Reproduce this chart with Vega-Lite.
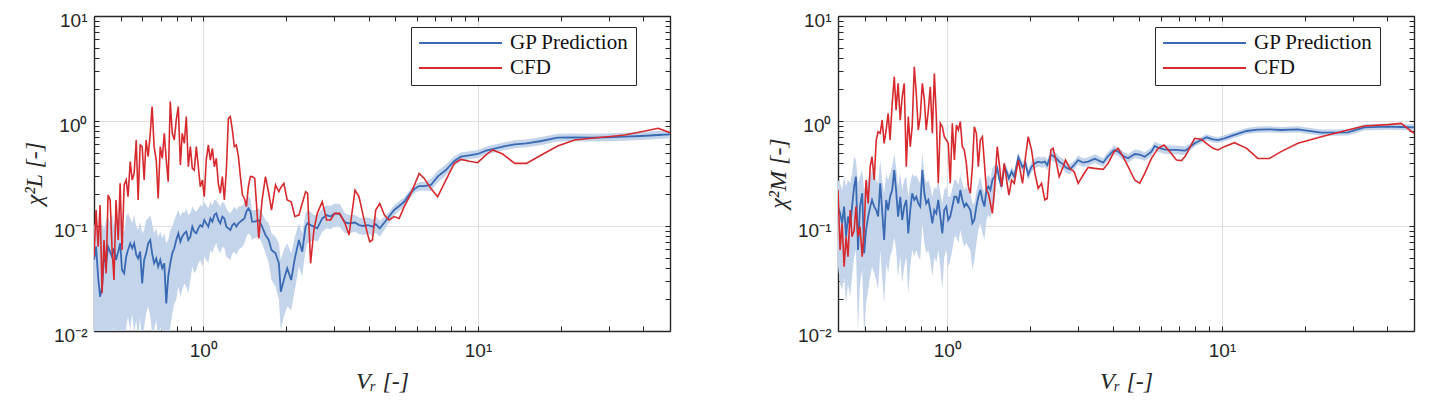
{
  "$schema": "https://vega.github.io/schema/vega-lite/v6.json",
  "description": "Chi-square of lift and moment coefficients vs reduced velocity: GP prediction with band against CFD.",
  "background": "white",
  "padding": {"left": 22, "top": 11, "right": 5, "bottom": 5},
  "spacing": 95,
  "datasets": {
    "left": [
      {"Vr": 0.400, "cfd": 0.0511, "gp": 0.0475, "lo": 0.0082, "hi": 0.0986},
      {"Vr": 0.407, "cfd": 0.142, "gp": 0.0636, "lo": 0.0102, "hi": 0.114},
      {"Vr": 0.414, "cfd": 0.0636, "gp": 0.0329, "lo": 0.0066, "hi": 0.0851},
      {"Vr": 0.421, "cfd": 0.158, "gp": 0.0212, "lo": 0.0053, "hi": 0.0916},
      {"Vr": 0.428, "cfd": 0.0229, "gp": 0.0264, "lo": 0.0082, "hi": 0.106},
      {"Vr": 0.435, "cfd": 0.0736, "gp": 0.0511, "lo": 0.0095, "hi": 0.0916},
      {"Vr": 0.443, "cfd": 0.0354, "gp": 0.0441, "lo": 0.0066, "hi": 0.114},
      {"Vr": 0.450, "cfd": 0.197, "gp": 0.0636, "lo": 0.0102, "hi": 0.123},
      {"Vr": 0.458, "cfd": 0.177, "gp": 0.0570, "lo": 0.0095, "hi": 0.106},
      {"Vr": 0.465, "cfd": 0.0636, "gp": 0.0511, "lo": 0.0082, "hi": 0.132},
      {"Vr": 0.473, "cfd": 0.0306, "gp": 0.0613, "lo": 0.0110, "hi": 0.0986},
      {"Vr": 0.481, "cfd": 0.177, "gp": 0.0475, "lo": 0.0066, "hi": 0.127},
      {"Vr": 0.490, "cfd": 0.0736, "gp": 0.0570, "lo": 0.0095, "hi": 0.114},
      {"Vr": 0.498, "cfd": 0.255, "gp": 0.0684, "lo": 0.0102, "hi": 0.132},
      {"Vr": 0.506, "cfd": 0.0591, "gp": 0.0381, "lo": 0.0066, "hi": 0.0986},
      {"Vr": 0.515, "cfd": 0.246, "gp": 0.0354, "lo": 0.0082, "hi": 0.0851},
      {"Vr": 0.524, "cfd": 0.274, "gp": 0.0511, "lo": 0.0110, "hi": 0.123},
      {"Vr": 0.532, "cfd": 0.190, "gp": 0.0591, "lo": 0.0137, "hi": 0.132},
      {"Vr": 0.542, "cfd": 0.410, "gp": 0.0684, "lo": 0.0102, "hi": 0.118},
      {"Vr": 0.551, "cfd": 0.274, "gp": 0.0613, "lo": 0.0147, "hi": 0.106},
      {"Vr": 0.560, "cfd": 0.317, "gp": 0.0684, "lo": 0.0095, "hi": 0.127},
      {"Vr": 0.570, "cfd": 0.659, "gp": 0.0530, "lo": 0.0127, "hi": 0.0986},
      {"Vr": 0.579, "cfd": 0.177, "gp": 0.0492, "lo": 0.0082, "hi": 0.0916},
      {"Vr": 0.589, "cfd": 0.591, "gp": 0.0570, "lo": 0.0137, "hi": 0.110},
      {"Vr": 0.599, "cfd": 0.570, "gp": 0.0284, "lo": 0.0066, "hi": 0.0851},
      {"Vr": 0.609, "cfd": 0.274, "gp": 0.0475, "lo": 0.0110, "hi": 0.0916},
      {"Vr": 0.619, "cfd": 0.659, "gp": 0.0549, "lo": 0.0147, "hi": 0.114},
      {"Vr": 0.630, "cfd": 0.457, "gp": 0.0684, "lo": 0.0171, "hi": 0.118},
      {"Vr": 0.641, "cfd": 0.763, "gp": 0.0736, "lo": 0.0137, "hi": 0.127},
      {"Vr": 0.651, "cfd": 1.37, "gp": 0.0549, "lo": 0.0095, "hi": 0.106},
      {"Vr": 0.662, "cfd": 0.570, "gp": 0.0441, "lo": 0.0102, "hi": 0.0851},
      {"Vr": 0.674, "cfd": 0.425, "gp": 0.0492, "lo": 0.0127, "hi": 0.0950},
      {"Vr": 0.685, "cfd": 0.183, "gp": 0.0410, "lo": 0.0082, "hi": 0.0791},
      {"Vr": 0.697, "cfd": 0.570, "gp": 0.0475, "lo": 0.0110, "hi": 0.0883},
      {"Vr": 0.709, "cfd": 0.441, "gp": 0.0395, "lo": 0.0095, "hi": 0.0763},
      {"Vr": 0.721, "cfd": 0.763, "gp": 0.0441, "lo": 0.0102, "hi": 0.0851},
      {"Vr": 0.733, "cfd": 0.425, "gp": 0.0183, "lo": 0.0053, "hi": 0.0684},
      {"Vr": 0.745, "cfd": 0.264, "gp": 0.0329, "lo": 0.0082, "hi": 0.0736},
      {"Vr": 0.758, "cfd": 1.53, "gp": 0.0441, "lo": 0.0110, "hi": 0.0916},
      {"Vr": 0.771, "cfd": 0.763, "gp": 0.0549, "lo": 0.0147, "hi": 0.0986},
      {"Vr": 0.784, "cfd": 0.659, "gp": 0.0613, "lo": 0.0183, "hi": 0.114},
      {"Vr": 0.797, "cfd": 1.02, "gp": 0.0736, "lo": 0.0197, "hi": 0.127},
      {"Vr": 0.811, "cfd": 1.37, "gp": 0.0851, "lo": 0.0264, "hi": 0.142},
      {"Vr": 0.825, "cfd": 0.381, "gp": 0.0709, "lo": 0.0212, "hi": 0.123},
      {"Vr": 0.838, "cfd": 0.763, "gp": 0.0791, "lo": 0.0246, "hi": 0.137},
      {"Vr": 0.853, "cfd": 0.613, "gp": 0.0851, "lo": 0.0284, "hi": 0.132},
      {"Vr": 0.867, "cfd": 1.10, "gp": 0.0883, "lo": 0.0264, "hi": 0.147},
      {"Vr": 0.882, "cfd": 0.367, "gp": 0.0736, "lo": 0.0229, "hi": 0.127},
      {"Vr": 0.897, "cfd": 0.570, "gp": 0.0791, "lo": 0.0306, "hi": 0.132},
      {"Vr": 0.912, "cfd": 0.354, "gp": 0.0986, "lo": 0.0410, "hi": 0.153},
      {"Vr": 0.927, "cfd": 0.341, "gp": 0.0883, "lo": 0.0354, "hi": 0.142},
      {"Vr": 0.943, "cfd": 0.570, "gp": 0.0851, "lo": 0.0381, "hi": 0.137},
      {"Vr": 0.959, "cfd": 0.367, "gp": 0.0950, "lo": 0.0441, "hi": 0.147},
      {"Vr": 0.975, "cfd": 0.237, "gp": 0.102, "lo": 0.0475, "hi": 0.158},
      {"Vr": 0.992, "cfd": 0.274, "gp": 0.0986, "lo": 0.0410, "hi": 0.153},
      {"Vr": 1.008, "cfd": 0.190, "gp": 0.114, "lo": 0.0511, "hi": 0.170},
      {"Vr": 1.025, "cfd": 0.425, "gp": 0.106, "lo": 0.0475, "hi": 0.158},
      {"Vr": 1.043, "cfd": 0.591, "gp": 0.0986, "lo": 0.0441, "hi": 0.147},
      {"Vr": 1.061, "cfd": 0.425, "gp": 0.118, "lo": 0.0591, "hi": 0.170},
      {"Vr": 1.079, "cfd": 0.549, "gp": 0.110, "lo": 0.0549, "hi": 0.158},
      {"Vr": 1.097, "cfd": 0.367, "gp": 0.127, "lo": 0.0636, "hi": 0.177},
      {"Vr": 1.115, "cfd": 0.441, "gp": 0.132, "lo": 0.0684, "hi": 0.177},
      {"Vr": 1.134, "cfd": 0.255, "gp": 0.114, "lo": 0.0591, "hi": 0.164},
      {"Vr": 1.153, "cfd": 0.205, "gp": 0.106, "lo": 0.0549, "hi": 0.153},
      {"Vr": 1.173, "cfd": 0.295, "gp": 0.123, "lo": 0.0636, "hi": 0.170},
      {"Vr": 1.193, "cfd": 0.177, "gp": 0.118, "lo": 0.0613, "hi": 0.164},
      {"Vr": 1.213, "cfd": 0.341, "gp": 0.0986, "lo": 0.0511, "hi": 0.147},
      {"Vr": 1.234, "cfd": 1.06, "gp": 0.0950, "lo": 0.0492, "hi": 0.137},
      {"Vr": 1.254, "cfd": 1.10, "gp": 0.0916, "lo": 0.0475, "hi": 0.132},
      {"Vr": 1.276, "cfd": 0.821, "gp": 0.102, "lo": 0.0549, "hi": 0.142},
      {"Vr": 1.297, "cfd": 0.570, "gp": 0.106, "lo": 0.0570, "hi": 0.153},
      {"Vr": 1.319, "cfd": 0.591, "gp": 0.0986, "lo": 0.0530, "hi": 0.142},
      {"Vr": 1.342, "cfd": 0.457, "gp": 0.106, "lo": 0.0591, "hi": 0.153},
      {"Vr": 1.365, "cfd": 0.295, "gp": 0.110, "lo": 0.0613, "hi": 0.153},
      {"Vr": 1.388, "cfd": 0.197, "gp": 0.114, "lo": 0.0636, "hi": 0.158},
      {"Vr": 1.411, "cfd": 0.183, "gp": 0.118, "lo": 0.0684, "hi": 0.164},
      {"Vr": 1.435, "cfd": 0.153, "gp": 0.137, "lo": 0.0791, "hi": 0.183},
      {"Vr": 1.459, "cfd": 0.237, "gp": 0.147, "lo": 0.0851, "hi": 0.190},
      {"Vr": 1.484, "cfd": 0.295, "gp": 0.137, "lo": 0.0821, "hi": 0.183},
      {"Vr": 1.505, "cfd": 0.295, "gp": 0.110, "lo": 0.0736, "hi": 0.142},
      {"Vr": 1.539, "cfd": 0.284, "gp": 0.110, "lo": 0.0763, "hi": 0.142},
      {"Vr": 1.592, "cfd": 0.0763, "gp": 0.114, "lo": 0.0791, "hi": 0.147},
      {"Vr": 1.637, "cfd": 0.177, "gp": 0.0986, "lo": 0.0684, "hi": 0.132},
      {"Vr": 1.684, "cfd": 0.295, "gp": 0.0821, "lo": 0.0549, "hi": 0.114},
      {"Vr": 1.731, "cfd": 0.205, "gp": 0.0736, "lo": 0.0441, "hi": 0.106},
      {"Vr": 1.771, "cfd": 0.142, "gp": 0.0591, "lo": 0.0306, "hi": 0.0851},
      {"Vr": 1.832, "cfd": 0.246, "gp": 0.0549, "lo": 0.0264, "hi": 0.0791},
      {"Vr": 1.884, "cfd": 0.212, "gp": 0.0441, "lo": 0.0197, "hi": 0.0684},
      {"Vr": 1.915, "cfd": 0.233, "gp": 0.0237, "lo": 0.0102, "hi": 0.0475},
      {"Vr": 1.964, "cfd": 0.255, "gp": 0.0306, "lo": 0.0137, "hi": 0.0591},
      {"Vr": 2.020, "cfd": 0.177, "gp": 0.0395, "lo": 0.0171, "hi": 0.0684},
      {"Vr": 2.089, "cfd": 0.170, "gp": 0.0306, "lo": 0.0158, "hi": 0.0549},
      {"Vr": 2.154, "cfd": 0.123, "gp": 0.0492, "lo": 0.0246, "hi": 0.0791},
      {"Vr": 2.228, "cfd": 0.127, "gp": 0.0736, "lo": 0.0410, "hi": 0.106},
      {"Vr": 2.291, "cfd": 0.164, "gp": 0.0570, "lo": 0.0329, "hi": 0.0851},
      {"Vr": 2.357, "cfd": 0.212, "gp": 0.0986, "lo": 0.0591, "hi": 0.132},
      {"Vr": 2.397, "cfd": 0.205, "gp": 0.106, "lo": 0.0684, "hi": 0.142},
      {"Vr": 2.458, "cfd": 0.0441, "gp": 0.102, "lo": 0.0709, "hi": 0.137},
      {"Vr": 2.527, "cfd": 0.0916, "gp": 0.0986, "lo": 0.0736, "hi": 0.127},
      {"Vr": 2.599, "cfd": 0.132, "gp": 0.0950, "lo": 0.0709, "hi": 0.127},
      {"Vr": 2.711, "cfd": 0.170, "gp": 0.118, "lo": 0.0883, "hi": 0.147},
      {"Vr": 2.811, "cfd": 0.114, "gp": 0.127, "lo": 0.0950, "hi": 0.158},
      {"Vr": 2.907, "cfd": 0.114, "gp": 0.123, "lo": 0.0930, "hi": 0.155},
      {"Vr": 3.007, "cfd": 0.132, "gp": 0.132, "lo": 0.0986, "hi": 0.164},
      {"Vr": 3.136, "cfd": 0.132, "gp": 0.130, "lo": 0.0986, "hi": 0.162},
      {"Vr": 3.280, "cfd": 0.106, "gp": 0.108, "lo": 0.0851, "hi": 0.132},
      {"Vr": 3.392, "cfd": 0.0821, "gp": 0.106, "lo": 0.0851, "hi": 0.127},
      {"Vr": 3.567, "cfd": 0.220, "gp": 0.108, "lo": 0.0883, "hi": 0.127},
      {"Vr": 3.689, "cfd": 0.190, "gp": 0.102, "lo": 0.0839, "hi": 0.121},
      {"Vr": 3.815, "cfd": 0.127, "gp": 0.100, "lo": 0.0821, "hi": 0.118},
      {"Vr": 3.957, "cfd": 0.0851, "gp": 0.102, "lo": 0.0839, "hi": 0.121},
      {"Vr": 4.035, "cfd": 0.0709, "gp": 0.101, "lo": 0.0833, "hi": 0.120},
      {"Vr": 4.127, "cfd": 0.0736, "gp": 0.0986, "lo": 0.0803, "hi": 0.116},
      {"Vr": 4.244, "cfd": 0.142, "gp": 0.104, "lo": 0.0864, "hi": 0.123},
      {"Vr": 4.388, "cfd": 0.164, "gp": 0.0950, "lo": 0.0791, "hi": 0.112},
      {"Vr": 4.564, "cfd": 0.127, "gp": 0.108, "lo": 0.0916, "hi": 0.123},
      {"Vr": 4.747, "cfd": 0.114, "gp": 0.123, "lo": 0.108, "hi": 0.137},
      {"Vr": 4.950, "cfd": 0.123, "gp": 0.142, "lo": 0.126, "hi": 0.158},
      {"Vr": 5.164, "cfd": 0.118, "gp": 0.155, "lo": 0.138, "hi": 0.172},
      {"Vr": 5.385, "cfd": 0.153, "gp": 0.170, "lo": 0.153, "hi": 0.1875},
      {"Vr": 5.662, "cfd": 0.197, "gp": 0.205, "lo": 0.185, "hi": 0.2235},
      {"Vr": 5.905, "cfd": 0.255, "gp": 0.228, "lo": 0.208, "hi": 0.249},
      {"Vr": 6.107, "cfd": 0.317, "gp": 0.240, "lo": 0.217, "hi": 0.262},
      {"Vr": 6.369, "cfd": 0.284, "gp": 0.240, "lo": 0.217, "hi": 0.262},
      {"Vr": 6.74, "cfd": 0.228, "gp": 0.246, "lo": 0.216, "hi": 0.280},
      {"Vr": 7.13, "cfd": 0.190, "gp": 0.295, "lo": 0.259, "hi": 0.336},
      {"Vr": 7.64, "cfd": 0.274, "gp": 0.341, "lo": 0.302, "hi": 0.385},
      {"Vr": 8.20, "cfd": 0.395, "gp": 0.416, "lo": 0.375, "hi": 0.462},
      {"Vr": 8.67, "cfd": 0.431, "gp": 0.457, "lo": 0.418, "hi": 0.500},
      {"Vr": 9.30, "cfd": 0.413, "gp": 0.471, "lo": 0.432, "hi": 0.514},
      {"Vr": 9.97, "cfd": 0.401, "gp": 0.485, "lo": 0.445, "hi": 0.529},
      {"Vr": 10.7, "cfd": 0.475, "gp": 0.522, "lo": 0.479, "hi": 0.569},
      {"Vr": 11.3, "cfd": 0.530, "gp": 0.541, "lo": 0.496, "hi": 0.590},
      {"Vr": 12.3, "cfd": 0.485, "gp": 0.570, "lo": 0.523, "hi": 0.622},
      {"Vr": 13.6, "cfd": 0.395, "gp": 0.600, "lo": 0.550, "hi": 0.654},
      {"Vr": 15.0, "cfd": 0.395, "gp": 0.613, "lo": 0.562, "hi": 0.668},
      {"Vr": 17.0, "cfd": 0.475, "gp": 0.645, "lo": 0.592, "hi": 0.703},
      {"Vr": 19.5, "cfd": 0.578, "gp": 0.694, "lo": 0.637, "hi": 0.757},
      {"Vr": 22.5, "cfd": 0.659, "gp": 0.699, "lo": 0.641, "hi": 0.762},
      {"Vr": 25.8, "cfd": 0.684, "gp": 0.694, "lo": 0.637, "hi": 0.757},
      {"Vr": 29.7, "cfd": 0.709, "gp": 0.699, "lo": 0.641, "hi": 0.762},
      {"Vr": 34.2, "cfd": 0.736, "gp": 0.709, "lo": 0.650, "hi": 0.773},
      {"Vr": 39.3, "cfd": 0.791, "gp": 0.720, "lo": 0.661, "hi": 0.785},
      {"Vr": 45.3, "cfd": 0.852, "gp": 0.736, "lo": 0.675, "hi": 0.802},
      {"Vr": 50.0, "cfd": 0.774, "gp": 0.746, "lo": 0.684, "hi": 0.813}
    ],
    "right": [
      {"Vr": 0.400, "cfd": 0.220, "gp": 0.153, "lo": 0.0410, "hi": 0.274},
      {"Vr": 0.407, "cfd": 0.0591, "gp": 0.132, "lo": 0.0284, "hi": 0.255},
      {"Vr": 0.414, "cfd": 0.106, "gp": 0.106, "lo": 0.0246, "hi": 0.220},
      {"Vr": 0.421, "cfd": 0.0410, "gp": 0.153, "lo": 0.0329, "hi": 0.295},
      {"Vr": 0.428, "cfd": 0.0791, "gp": 0.0791, "lo": 0.0183, "hi": 0.237},
      {"Vr": 0.435, "cfd": 0.0511, "gp": 0.123, "lo": 0.0284, "hi": 0.274},
      {"Vr": 0.443, "cfd": 0.142, "gp": 0.0986, "lo": 0.0212, "hi": 0.255},
      {"Vr": 0.450, "cfd": 0.0791, "gp": 0.153, "lo": 0.0329, "hi": 0.317},
      {"Vr": 0.458, "cfd": 0.0916, "gp": 0.237, "lo": 0.0511, "hi": 0.457},
      {"Vr": 0.465, "cfd": 0.153, "gp": 0.295, "lo": 0.0591, "hi": 0.425},
      {"Vr": 0.473, "cfd": 0.0791, "gp": 0.0591, "lo": 0.0102, "hi": 0.255},
      {"Vr": 0.481, "cfd": 0.0986, "gp": 0.153, "lo": 0.0284, "hi": 0.295},
      {"Vr": 0.490, "cfd": 0.0511, "gp": 0.205, "lo": 0.0381, "hi": 0.341},
      {"Vr": 0.498, "cfd": 0.0916, "gp": 0.0549, "lo": 0.00883, "hi": 0.220},
      {"Vr": 0.506, "cfd": 0.274, "gp": 0.0916, "lo": 0.0183, "hi": 0.255},
      {"Vr": 0.515, "cfd": 0.164, "gp": 0.123, "lo": 0.0246, "hi": 0.274},
      {"Vr": 0.524, "cfd": 0.367, "gp": 0.153, "lo": 0.0329, "hi": 0.295},
      {"Vr": 0.532, "cfd": 0.457, "gp": 0.177, "lo": 0.0410, "hi": 0.341},
      {"Vr": 0.542, "cfd": 0.274, "gp": 0.153, "lo": 0.0354, "hi": 0.295},
      {"Vr": 0.551, "cfd": 0.659, "gp": 0.142, "lo": 0.0306, "hi": 0.274},
      {"Vr": 0.560, "cfd": 0.791, "gp": 0.123, "lo": 0.0246, "hi": 0.255},
      {"Vr": 0.570, "cfd": 0.763, "gp": 0.255, "lo": 0.0591, "hi": 0.425},
      {"Vr": 0.579, "cfd": 1.02, "gp": 0.142, "lo": 0.0329, "hi": 0.274},
      {"Vr": 0.589, "cfd": 0.613, "gp": 0.0736, "lo": 0.0183, "hi": 0.205},
      {"Vr": 0.599, "cfd": 0.821, "gp": 0.177, "lo": 0.0441, "hi": 0.317},
      {"Vr": 0.609, "cfd": 1.18, "gp": 0.142, "lo": 0.0354, "hi": 0.274},
      {"Vr": 0.619, "cfd": 0.659, "gp": 0.190, "lo": 0.0511, "hi": 0.317},
      {"Vr": 0.630, "cfd": 1.47, "gp": 0.220, "lo": 0.0591, "hi": 0.367},
      {"Vr": 0.641, "cfd": 2.64, "gp": 0.341, "lo": 0.0791, "hi": 0.492},
      {"Vr": 0.651, "cfd": 1.27, "gp": 0.220, "lo": 0.0591, "hi": 0.367},
      {"Vr": 0.662, "cfd": 2.28, "gp": 0.123, "lo": 0.0329, "hi": 0.237},
      {"Vr": 0.674, "cfd": 1.02, "gp": 0.190, "lo": 0.0511, "hi": 0.317},
      {"Vr": 0.685, "cfd": 1.70, "gp": 0.114, "lo": 0.0284, "hi": 0.220},
      {"Vr": 0.697, "cfd": 2.28, "gp": 0.153, "lo": 0.0410, "hi": 0.274},
      {"Vr": 0.709, "cfd": 0.367, "gp": 0.177, "lo": 0.0511, "hi": 0.295},
      {"Vr": 0.721, "cfd": 1.10, "gp": 0.0851, "lo": 0.0228, "hi": 0.190},
      {"Vr": 0.733, "cfd": 0.570, "gp": 0.142, "lo": 0.0410, "hi": 0.255},
      {"Vr": 0.745, "cfd": 0.883, "gp": 0.205, "lo": 0.0591, "hi": 0.317},
      {"Vr": 0.758, "cfd": 3.29, "gp": 0.177, "lo": 0.0511, "hi": 0.295},
      {"Vr": 0.771, "cfd": 1.83, "gp": 0.190, "lo": 0.0591, "hi": 0.306},
      {"Vr": 0.784, "cfd": 0.821, "gp": 0.164, "lo": 0.0511, "hi": 0.274},
      {"Vr": 0.797, "cfd": 1.10, "gp": 0.153, "lo": 0.0475, "hi": 0.255},
      {"Vr": 0.811, "cfd": 2.28, "gp": 0.341, "lo": 0.106, "hi": 0.492},
      {"Vr": 0.825, "cfd": 1.585, "gp": 0.205, "lo": 0.0684, "hi": 0.317},
      {"Vr": 0.838, "cfd": 0.821, "gp": 0.164, "lo": 0.0549, "hi": 0.255},
      {"Vr": 0.853, "cfd": 1.27, "gp": 0.177, "lo": 0.0591, "hi": 0.274},
      {"Vr": 0.867, "cfd": 2.12, "gp": 0.142, "lo": 0.0475, "hi": 0.237},
      {"Vr": 0.882, "cfd": 0.763, "gp": 0.106, "lo": 0.0329, "hi": 0.190},
      {"Vr": 0.897, "cfd": 2.84, "gp": 0.142, "lo": 0.0511, "hi": 0.237},
      {"Vr": 0.912, "cfd": 1.10, "gp": 0.132, "lo": 0.0441, "hi": 0.220},
      {"Vr": 0.927, "cfd": 0.255, "gp": 0.177, "lo": 0.0591, "hi": 0.274},
      {"Vr": 0.943, "cfd": 0.950, "gp": 0.123, "lo": 0.0410, "hi": 0.205},
      {"Vr": 0.959, "cfd": 0.883, "gp": 0.0851, "lo": 0.0246, "hi": 0.164},
      {"Vr": 0.975, "cfd": 0.709, "gp": 0.142, "lo": 0.0511, "hi": 0.220},
      {"Vr": 0.992, "cfd": 0.659, "gp": 0.153, "lo": 0.0591, "hi": 0.237},
      {"Vr": 1.008, "cfd": 0.613, "gp": 0.114, "lo": 0.0410, "hi": 0.190},
      {"Vr": 1.025, "cfd": 0.255, "gp": 0.123, "lo": 0.0475, "hi": 0.190},
      {"Vr": 1.043, "cfd": 0.950, "gp": 0.153, "lo": 0.0591, "hi": 0.228},
      {"Vr": 1.061, "cfd": 0.425, "gp": 0.190, "lo": 0.0791, "hi": 0.274},
      {"Vr": 1.079, "cfd": 0.916, "gp": 0.190, "lo": 0.0791, "hi": 0.274},
      {"Vr": 1.097, "cfd": 0.821, "gp": 0.164, "lo": 0.0684, "hi": 0.246},
      {"Vr": 1.115, "cfd": 0.985, "gp": 0.220, "lo": 0.0916, "hi": 0.306},
      {"Vr": 1.134, "cfd": 0.570, "gp": 0.177, "lo": 0.0736, "hi": 0.255},
      {"Vr": 1.153, "cfd": 0.530, "gp": 0.153, "lo": 0.0636, "hi": 0.220},
      {"Vr": 1.173, "cfd": 0.395, "gp": 0.164, "lo": 0.0684, "hi": 0.237},
      {"Vr": 1.193, "cfd": 0.237, "gp": 0.153, "lo": 0.0636, "hi": 0.220},
      {"Vr": 1.213, "cfd": 0.205, "gp": 0.142, "lo": 0.0591, "hi": 0.205},
      {"Vr": 1.234, "cfd": 0.367, "gp": 0.106, "lo": 0.0381, "hi": 0.164},
      {"Vr": 1.254, "cfd": 0.883, "gp": 0.114, "lo": 0.0475, "hi": 0.164},
      {"Vr": 1.276, "cfd": 0.763, "gp": 0.153, "lo": 0.0684, "hi": 0.212},
      {"Vr": 1.297, "cfd": 0.367, "gp": 0.190, "lo": 0.0916, "hi": 0.255},
      {"Vr": 1.319, "cfd": 0.659, "gp": 0.220, "lo": 0.106, "hi": 0.295},
      {"Vr": 1.342, "cfd": 0.709, "gp": 0.177, "lo": 0.0851, "hi": 0.237},
      {"Vr": 1.365, "cfd": 0.395, "gp": 0.153, "lo": 0.0736, "hi": 0.205},
      {"Vr": 1.388, "cfd": 0.220, "gp": 0.220, "lo": 0.114, "hi": 0.284},
      {"Vr": 1.411, "cfd": 0.205, "gp": 0.237, "lo": 0.127, "hi": 0.306},
      {"Vr": 1.435, "cfd": 0.164, "gp": 0.220, "lo": 0.118, "hi": 0.284},
      {"Vr": 1.459, "cfd": 0.132, "gp": 0.274, "lo": 0.153, "hi": 0.354},
      {"Vr": 1.484, "cfd": 0.220, "gp": 0.295, "lo": 0.164, "hi": 0.381},
      {"Vr": 1.520, "cfd": 0.570, "gp": 0.354, "lo": 0.316, "hi": 0.396},
      {"Vr": 1.550, "cfd": 0.367, "gp": 0.274, "lo": 0.245, "hi": 0.307},
      {"Vr": 1.576, "cfd": 0.237, "gp": 0.237, "lo": 0.212, "hi": 0.265},
      {"Vr": 1.612, "cfd": 0.395, "gp": 0.367, "lo": 0.328, "hi": 0.411},
      {"Vr": 1.644, "cfd": 0.274, "gp": 0.329, "lo": 0.294, "hi": 0.368},
      {"Vr": 1.676, "cfd": 0.197, "gp": 0.284, "lo": 0.254, "hi": 0.318},
      {"Vr": 1.714, "cfd": 0.274, "gp": 0.329, "lo": 0.294, "hi": 0.368},
      {"Vr": 1.753, "cfd": 0.255, "gp": 0.295, "lo": 0.263, "hi": 0.330},
      {"Vr": 1.813, "cfd": 0.425, "gp": 0.451, "lo": 0.403, "hi": 0.505},
      {"Vr": 1.879, "cfd": 0.255, "gp": 0.362, "lo": 0.323, "hi": 0.405},
      {"Vr": 1.927, "cfd": 0.457, "gp": 0.395, "lo": 0.353, "hi": 0.442},
      {"Vr": 1.970, "cfd": 0.709, "gp": 0.306, "lo": 0.273, "hi": 0.343},
      {"Vr": 2.026, "cfd": 0.530, "gp": 0.367, "lo": 0.328, "hi": 0.411},
      {"Vr": 2.084, "cfd": 0.317, "gp": 0.395, "lo": 0.353, "hi": 0.442},
      {"Vr": 2.142, "cfd": 0.228, "gp": 0.410, "lo": 0.366, "hi": 0.459},
      {"Vr": 2.203, "cfd": 0.255, "gp": 0.401, "lo": 0.358, "hi": 0.449},
      {"Vr": 2.265, "cfd": 0.177, "gp": 0.410, "lo": 0.366, "hi": 0.459},
      {"Vr": 2.310, "cfd": 0.183, "gp": 0.381, "lo": 0.340, "hi": 0.427},
      {"Vr": 2.382, "cfd": 0.530, "gp": 0.475, "lo": 0.424, "hi": 0.532},
      {"Vr": 2.429, "cfd": 0.549, "gp": 0.464, "lo": 0.414, "hi": 0.520},
      {"Vr": 2.498, "cfd": 0.395, "gp": 0.441, "lo": 0.394, "hi": 0.494},
      {"Vr": 2.554, "cfd": 0.295, "gp": 0.410, "lo": 0.366, "hi": 0.459},
      {"Vr": 2.641, "cfd": 0.367, "gp": 0.389, "lo": 0.347, "hi": 0.436},
      {"Vr": 2.693, "cfd": 0.425, "gp": 0.362, "lo": 0.323, "hi": 0.405},
      {"Vr": 2.793, "cfd": 0.354, "gp": 0.346, "lo": 0.309, "hi": 0.388},
      {"Vr": 2.896, "cfd": 0.329, "gp": 0.381, "lo": 0.346, "hi": 0.419},
      {"Vr": 2.995, "cfd": 0.255, "gp": 0.425, "lo": 0.386, "hi": 0.468},
      {"Vr": 3.123, "cfd": 0.306, "gp": 0.401, "lo": 0.365, "hi": 0.441},
      {"Vr": 3.257, "cfd": 0.362, "gp": 0.410, "lo": 0.373, "hi": 0.451},
      {"Vr": 3.443, "cfd": 0.354, "gp": 0.438, "lo": 0.398, "hi": 0.482},
      {"Vr": 3.692, "cfd": 0.346, "gp": 0.401, "lo": 0.365, "hi": 0.441},
      {"Vr": 3.850, "cfd": 0.395, "gp": 0.464, "lo": 0.422, "hi": 0.510},
      {"Vr": 4.049, "cfd": 0.511, "gp": 0.530, "lo": 0.482, "hi": 0.583},
      {"Vr": 4.187, "cfd": 0.549, "gp": 0.511, "lo": 0.465, "hi": 0.562},
      {"Vr": 4.365, "cfd": 0.457, "gp": 0.464, "lo": 0.422, "hi": 0.510},
      {"Vr": 4.552, "cfd": 0.367, "gp": 0.441, "lo": 0.401, "hi": 0.485},
      {"Vr": 4.813, "cfd": 0.274, "gp": 0.485, "lo": 0.441, "hi": 0.534},
      {"Vr": 5.018, "cfd": 0.255, "gp": 0.478, "lo": 0.435, "hi": 0.526},
      {"Vr": 5.234, "cfd": 0.317, "gp": 0.457, "lo": 0.415, "hi": 0.503},
      {"Vr": 5.534, "cfd": 0.441, "gp": 0.511, "lo": 0.465, "hi": 0.562},
      {"Vr": 5.691, "cfd": 0.492, "gp": 0.578, "lo": 0.525, "hi": 0.636},
      {"Vr": 5.852, "cfd": 0.549, "gp": 0.557, "lo": 0.506, "hi": 0.613},
      {"Vr": 6.153, "cfd": 0.591, "gp": 0.537, "lo": 0.488, "hi": 0.591},
      {"Vr": 6.451, "cfd": 0.511, "gp": 0.530, "lo": 0.482, "hi": 0.583},
      {"Vr": 6.825, "cfd": 0.425, "gp": 0.530, "lo": 0.482, "hi": 0.583},
      {"Vr": 7.117, "cfd": 0.419, "gp": 0.525, "lo": 0.477, "hi": 0.578},
      {"Vr": 7.360, "cfd": 0.464, "gp": 0.522, "lo": 0.475, "hi": 0.574},
      {"Vr": 7.95, "cfd": 0.684, "gp": 0.613, "lo": 0.573, "hi": 0.656},
      {"Vr": 8.41, "cfd": 0.669, "gp": 0.659, "lo": 0.616, "hi": 0.705},
      {"Vr": 8.77, "cfd": 0.613, "gp": 0.699, "lo": 0.653, "hi": 0.748},
      {"Vr": 9.27, "cfd": 0.549, "gp": 0.669, "lo": 0.625, "hi": 0.716},
      {"Vr": 9.67, "cfd": 0.530, "gp": 0.659, "lo": 0.616, "hi": 0.705},
      {"Vr": 10.2, "cfd": 0.570, "gp": 0.684, "lo": 0.639, "hi": 0.732},
      {"Vr": 11.1, "cfd": 0.622, "gp": 0.736, "lo": 0.688, "hi": 0.788},
      {"Vr": 12.3, "cfd": 0.549, "gp": 0.803, "lo": 0.750, "hi": 0.859},
      {"Vr": 13.5, "cfd": 0.441, "gp": 0.827, "lo": 0.773, "hi": 0.885},
      {"Vr": 14.9, "cfd": 0.440, "gp": 0.833, "lo": 0.779, "hi": 0.891},
      {"Vr": 16.4, "cfd": 0.511, "gp": 0.821, "lo": 0.767, "hi": 0.878},
      {"Vr": 18.9, "cfd": 0.613, "gp": 0.833, "lo": 0.779, "hi": 0.891},
      {"Vr": 23.0, "cfd": 0.709, "gp": 0.774, "lo": 0.723, "hi": 0.828},
      {"Vr": 28.7, "cfd": 0.821, "gp": 0.780, "lo": 0.729, "hi": 0.835},
      {"Vr": 33.0, "cfd": 0.896, "gp": 0.870, "lo": 0.813, "hi": 0.931},
      {"Vr": 40.2, "cfd": 0.923, "gp": 0.883, "lo": 0.825, "hi": 0.945},
      {"Vr": 44.9, "cfd": 0.950, "gp": 0.877, "lo": 0.820, "hi": 0.938},
      {"Vr": 50.0, "cfd": 0.763, "gp": 0.870, "lo": 0.813, "hi": 0.931}
    ]
  },
  "hconcat": [
    {
      "data": {"name": "left"},
      "width": 576,
      "height": 315,
      "layer": [
        {
          "mark": {"type": "area", "color": "#c4d4ea", "clip": true},
          "encoding": {
            "x": {
              "field": "Vr", "type": "quantitative",
              "scale": {"type": "log", "domain": [0.4, 50], "nice": false},
              "axis": {
                "orient": "bottom",
                "values": [0.4, 0.5, 0.6, 0.7, 0.8, 0.9, 1, 2, 3, 4, 5, 6, 7, 8, 9, 10, 20, 30, 40, 50],
                "labelExpr": "datum.value == 1 ? '10⁰' : datum.value == 10 ? '10¹' : ''",
                "labelPadding": 15,
                "labelBaseline": "top",
                "grid": true,
                "gridOpacity": {"condition": {"test": "datum.value == 1 || datum.value == 10", "value": 1}, "value": 0},
                "title": "Vᵣ  [-]",
                "titleY": 57,
                "titleBaseline": "alphabetic"
              }
            },
            "y": {
              "field": "lo", "type": "quantitative",
              "scale": {"type": "log", "domain": [0.01, 10], "nice": false},
              "axis": {
                "orient": "left",
                "values": [0.01, 0.02, 0.03, 0.04, 0.05, 0.06, 0.07, 0.08, 0.09, 0.1, 0.2, 0.3, 0.4, 0.5, 0.6, 0.7, 0.8, 0.9, 1, 2, 3, 4, 5, 6, 7, 8, 9, 10],
                "labelExpr": "datum.value == 10 ? '10¹' : datum.value == 1 ? '10⁰' : datum.value == 0.1 ? '10⁻¹' : datum.value == 0.01 ? '10⁻²' : ''",
                "labelPadding": 12,
                "labelOffset": 4,
                "grid": true,
                "gridOpacity": {"condition": {"test": "datum.value == 1 || datum.value == 0.1", "value": 1}, "value": 0},
                "title": "χ²L  [-]",
                "titleAngle": -90,
                "titleX": -53,
                "titleY": 157,
                "titleAlign": "center",
                "titleBaseline": "alphabetic"
              }
            },
            "y2": {"field": "hi"}
          }
        },
        {
          "mark": {"type": "line", "strokeWidth": 1.8, "clip": true},
          "encoding": {
            "x": {"field": "Vr", "type": "quantitative", "axis": null},
            "y": {"field": "gp", "type": "quantitative", "axis": null},
            "color": {
              "datum": "GP Prediction", "type": "nominal",
              "scale": {"domain": ["GP Prediction", "CFD"], "range": ["#3a6ab4", "#d62a2f"]},
              "legend": {"orient": "none", "legendX": 317, "legendY": 11, "title": null}
            }
          }
        },
        {
          "mark": {"type": "line", "strokeWidth": 1.6, "clip": true},
          "encoding": {
            "x": {"field": "Vr", "type": "quantitative", "axis": null},
            "y": {"field": "cfd", "type": "quantitative", "axis": null},
            "color": {"datum": "CFD", "type": "nominal"}
          }
        },
        {
          "mark": {"type": "line", "opacity": 0},
          "encoding": {
            "x": {
              "field": "Vr", "type": "quantitative",
              "axis": {"orient": "top", "values": [0.4, 0.5, 0.6, 0.7, 0.8, 0.9, 1, 2, 3, 4, 5, 6, 7, 8, 9, 10, 20, 30, 40, 50], "labels": false, "grid": false, "title": null}
            },
            "y": {
              "field": "gp", "type": "quantitative",
              "axis": {"orient": "right", "values": [0.01, 0.02, 0.03, 0.04, 0.05, 0.06, 0.07, 0.08, 0.09, 0.1, 0.2, 0.3, 0.4, 0.5, 0.6, 0.7, 0.8, 0.9, 1, 2, 3, 4, 5, 6, 7, 8, 9, 10], "labels": false, "grid": false, "title": null}
            }
          }
        }
      ],
      "resolve": {"axis": {"x": "independent", "y": "independent"}}
    },
    {
      "data": {"name": "right"},
      "width": 576,
      "height": 315,
      "layer": [
        {
          "mark": {"type": "area", "color": "#c4d4ea", "clip": true},
          "encoding": {
            "x": {
              "field": "Vr", "type": "quantitative",
              "scale": {"type": "log", "domain": [0.4, 50], "nice": false},
              "axis": {
                "orient": "bottom",
                "values": [0.4, 0.5, 0.6, 0.7, 0.8, 0.9, 1, 2, 3, 4, 5, 6, 7, 8, 9, 10, 20, 30, 40, 50],
                "labelExpr": "datum.value == 1 ? '10⁰' : datum.value == 10 ? '10¹' : ''",
                "labelPadding": 15,
                "labelBaseline": "top",
                "grid": true,
                "gridOpacity": {"condition": {"test": "datum.value == 1 || datum.value == 10", "value": 1}, "value": 0},
                "title": "Vᵣ  [-]",
                "titleY": 57,
                "titleBaseline": "alphabetic"
              }
            },
            "y": {
              "field": "lo", "type": "quantitative",
              "scale": {"type": "log", "domain": [0.01, 10], "nice": false},
              "axis": {
                "orient": "left",
                "values": [0.01, 0.02, 0.03, 0.04, 0.05, 0.06, 0.07, 0.08, 0.09, 0.1, 0.2, 0.3, 0.4, 0.5, 0.6, 0.7, 0.8, 0.9, 1, 2, 3, 4, 5, 6, 7, 8, 9, 10],
                "labelExpr": "datum.value == 10 ? '10¹' : datum.value == 1 ? '10⁰' : datum.value == 0.1 ? '10⁻¹' : datum.value == 0.01 ? '10⁻²' : ''",
                "labelPadding": 12,
                "labelOffset": 4,
                "grid": true,
                "gridOpacity": {"condition": {"test": "datum.value == 1 || datum.value == 0.1", "value": 1}, "value": 0},
                "title": "χ²M  [-]",
                "titleAngle": -90,
                "titleX": -53,
                "titleY": 157,
                "titleAlign": "center",
                "titleBaseline": "alphabetic"
              }
            },
            "y2": {"field": "hi"}
          }
        },
        {
          "mark": {"type": "line", "strokeWidth": 1.8, "clip": true},
          "encoding": {
            "x": {"field": "Vr", "type": "quantitative", "axis": null},
            "y": {"field": "gp", "type": "quantitative", "axis": null},
            "color": {
              "datum": "GP Prediction", "type": "nominal",
              "scale": {"domain": ["GP Prediction", "CFD"], "range": ["#3a6ab4", "#d62a2f"]},
              "legend": {"orient": "none", "legendX": 317, "legendY": 11, "title": null}
            }
          }
        },
        {
          "mark": {"type": "line", "strokeWidth": 1.6, "clip": true},
          "encoding": {
            "x": {"field": "Vr", "type": "quantitative", "axis": null},
            "y": {"field": "cfd", "type": "quantitative", "axis": null},
            "color": {"datum": "CFD", "type": "nominal"}
          }
        },
        {
          "mark": {"type": "line", "opacity": 0},
          "encoding": {
            "x": {
              "field": "Vr", "type": "quantitative",
              "axis": {"orient": "top", "values": [0.4, 0.5, 0.6, 0.7, 0.8, 0.9, 1, 2, 3, 4, 5, 6, 7, 8, 9, 10, 20, 30, 40, 50], "labels": false, "grid": false, "title": null}
            },
            "y": {
              "field": "gp", "type": "quantitative",
              "axis": {"orient": "right", "values": [0.01, 0.02, 0.03, 0.04, 0.05, 0.06, 0.07, 0.08, 0.09, 0.1, 0.2, 0.3, 0.4, 0.5, 0.6, 0.7, 0.8, 0.9, 1, 2, 3, 4, 5, 6, 7, 8, 9, 10], "labels": false, "grid": false, "title": null}
            }
          }
        }
      ],
      "resolve": {"axis": {"x": "independent", "y": "independent"}}
    }
  ],
  "resolve": {"scale": {"color": "independent"}, "legend": {"color": "independent"}},
  "config": {
    "font": "Liberation Sans",
    "view": {"stroke": null},
    "axis": {
      "domainColor": "#262626",
      "domainWidth": 1.4,
      "tickColor": "#262626",
      "tickSize": -5,
      "tickWidth": 1,
      "labelFont": "Liberation Sans",
      "labelFontSize": 19,
      "labelColor": "#262626",
      "labelFlush": false,
      "labelOverlap": false,
      "gridColor": "#dedede",
      "gridWidth": 1,
      "titleFont": "Liberation Serif",
      "titleFontSize": 24,
      "titleFontWeight": "normal",
      "titleFontStyle": "italic",
      "titleColor": "#262626"
    },
    "legend": {
      "symbolType": "stroke",
      "symbolSize": 6889,
      "symbolStrokeWidth": 1.8,
      "labelFont": "Liberation Serif",
      "labelFontSize": 21,
      "labelColor": "#111111",
      "labelOffset": 7,
      "labelLimit": 300,
      "clipHeight": 18,
      "rowPadding": 4,
      "padding": 7,
      "strokeColor": "#262626",
      "fillColor": "#ffffff",
      "strokeWidth": 1
    }
  }
}
